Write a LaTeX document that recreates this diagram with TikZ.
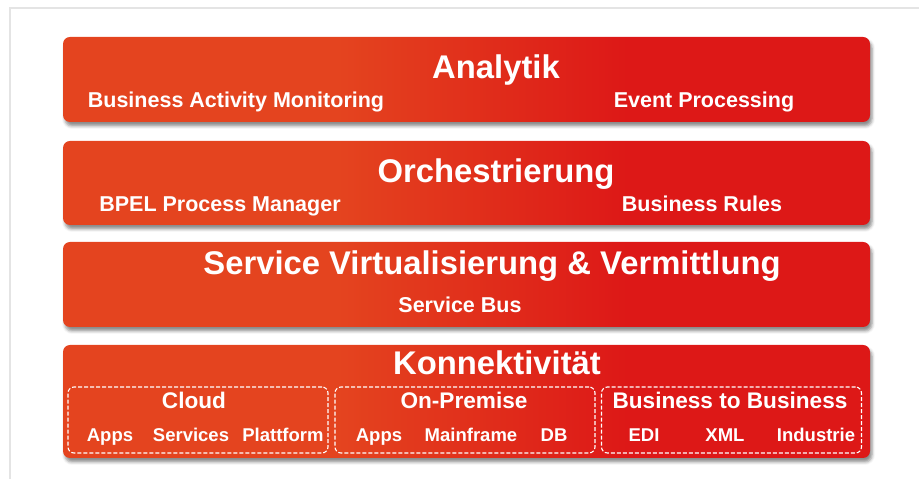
\documentclass[tikz,border=0pt]{standalone}
\usepackage{fontspec}
\setmainfont{Liberation Sans}
\usepackage{tikz}
\usetikzlibrary{shadows.blur}
\definecolor{layerorange}{HTML}{E4441F}
\definecolor{layerred}{HTML}{DD1817}
\definecolor{framegray}{HTML}{E4E4E4}

% orange on the left, red on the right
\pgfdeclarehorizontalshading{layershade}{100bp}{color(0bp)=(layerorange); color(25bp)=(layerorange); color(42bp)=(layerorange); color(60bp)=(layerred); color(75bp)=(layerred); color(100bp)=(layerred)}

\tikzset{
  layer/.style={rectangle, rounded corners=7pt, shading=layershade, inner sep=0pt,
    minimum width=807pt,
    blur shadow={shadow xshift=2pt, shadow yshift=-4pt, shadow blur radius=3pt, shadow opacity=45}},
  title/.style={anchor=base, text=white, font=\bfseries\fontsize{32.8}{38}\selectfont},
  sub/.style={anchor=base, text=white, font=\bfseries\fontsize{21.5}{25}\selectfont},
  grouptitle/.style={anchor=base, text=white, font=\bfseries\fontsize{22.6}{26}\selectfont},
  item/.style={anchor=base, text=white, font=\bfseries\fontsize{18.5}{22}\selectfont},
  groupbox/.style={rectangle, draw=white, line width=1.1pt, dash pattern=on 4pt off 2pt,
    rounded corners=6pt, minimum width=260pt, minimum height=66pt, inner sep=0pt}
}

\begin{document}
\begin{tikzpicture}[x=1pt, y=1pt]

\useasboundingbox (0,0) rectangle (919,479);

\def\xm{466.5} % middle of the layers

% frame
\draw[framegray, line width=1.5pt] (10,0) -- (10,471) -- (919,471);

% --- Layers ---
\node[layer, minimum height=85pt] (analytikbox) at (\xm,399.5) {};
\node[layer, minimum height=84pt] (orchbox) at (\xm,296) {};
\node[layer, minimum height=85pt] (svbox) at (\xm,194.5) {};
\node[layer, minimum height=113pt] (konbox) at (\xm,77.5) {};

% Analytik
\node[title] (analytik) at (496,400) {Analytik};
\node[sub] (bam) at (236,371) {Business Activity Monitoring};
\node[sub] (event) at (704,371) {Event Processing};

% Orchestrierung
\node[title] (orch) at (496,296) {Orchestrierung};
\node[sub] (bpel) at (220,267) {BPEL Process Manager};
\node[sub] (rules) at (702,267) {Business Rules};

% Service Virtualisierung
\node[title] (sv) at (492,204) {Service Virtualisierung \& Vermittlung};
\node[sub] (bus) at (460,166) {Service Bus};

% Konnektivitaet
\node[title] (kon) at (497,104) {Konnektivität};

% --- groups ---
\node[groupbox] (cloudbox) at (198,59) {};
\node[groupbox] (onpbox) at (465,59) {};
\node[groupbox] (bbbox) at (731.5,59) {};

\node[grouptitle] (cloud) at (194,70) {Cloud};
\node[item] (capps) at (110,37) {Apps};
\node[item] (cserv) at (191,37) {Services};
\node[item] (cplat) at (283,37) {Plattform};

\node[grouptitle] (onp) at (464,70) {On-Premise};
\node[item] (oapps) at (379,37) {Apps};
\node[item] (omain) at (471,37) {Mainframe};
\node[item] (odb) at (554,37) {DB};

\node[grouptitle] (bb) at (730,70) {Business to Business};
\node[item] (edi) at (644,37) {EDI};
\node[item] (xml) at (725,37) {XML};
\node[item] (ind) at (816,37) {Industrie};

\end{tikzpicture}
\end{document}
